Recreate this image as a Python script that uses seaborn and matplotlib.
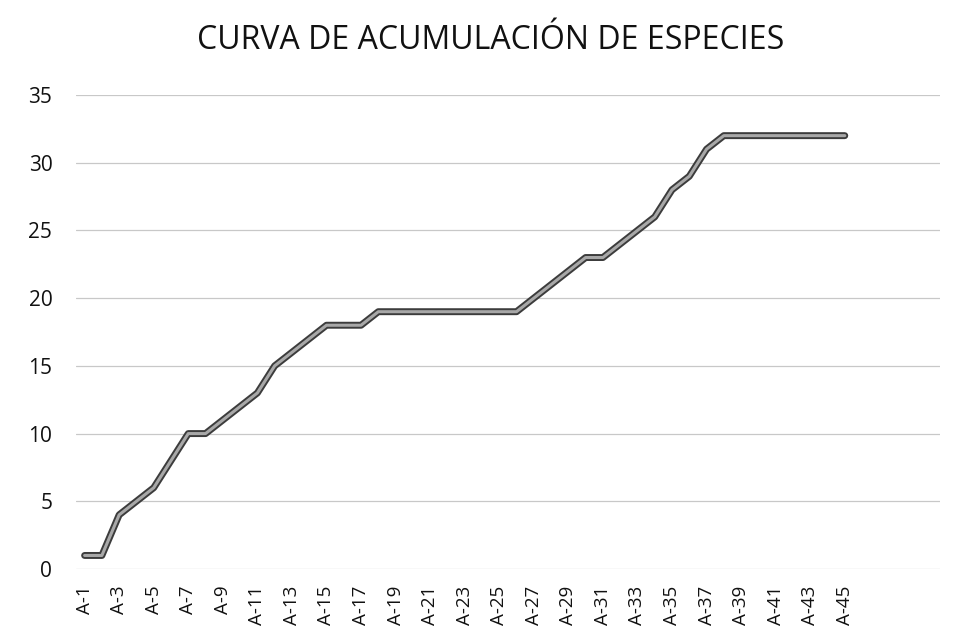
import numpy as np
import pandas as pd
import seaborn as sns
import matplotlib.pyplot as plt
import matplotlib.patheffects as pe

# datos
muestras = [f"A-{i}" for i in range(1, 46)]
especies = [1, 1, 4, 5, 6, 8, 10, 10, 11, 12,
            13, 15, 16, 17, 18, 18, 18, 19, 19, 19,
            19, 19, 19, 19, 19, 19, 20, 21, 22, 23,
            23, 24, 25, 26, 28, 29, 31, 32, 32, 32,
            32, 32, 32, 32, 32]
n_categorias = 50  # el eje llega hasta 50 categorias, las ultimas vacias
y_ticks = [0, 5, 10, 15, 20, 25, 30, 35]

df = pd.DataFrame({"muestra": muestras, "especies": especies})
df["pos"] = np.arange(len(df))

sns.set_theme(style="white")
plt.rcParams['font.family'] = ['Open Sans', 'DejaVu Sans']

fig = plt.figure(figsize=(9.58, 6.42), dpi=100)
ax = fig.add_axes([0.0793, 0.1137, 0.9017, 0.7383])

for yv in y_ticks:
    ax.axhline(yv, color='#c8c8c8', lw=0.9, zorder=0)

sns.lineplot(data=df, x="pos", y="especies", ax=ax, color='#a8a8a8', lw=2.2,
             path_effects=[pe.Stroke(linewidth=5, foreground='#3c3c3c'), pe.Normal()])

ax.set_xlim(-0.5, n_categorias - 0.5)
ax.set_ylim(0, 35)
ax.set_yticks(y_ticks)
ax.set_yticklabels([str(v) for v in y_ticks], fontsize=15, color='#111111')
ax.set_xticks(df["pos"][::2])
ax.set_xticklabels(df["muestra"][::2], rotation=90, fontsize=13.5, color='#111111')
ax.tick_params(axis='y', length=0, pad=17)
ax.tick_params(axis='x', length=0, pad=12)
ax.set_xlabel("")
ax.set_ylabel("")
sns.despine(ax=ax, left=True, bottom=True)

fig.text(0.512, 0.937, "CURVA DE ACUMULACIÓN DE ESPECIES", ha='center', va='center',
         fontsize=23, color='#111111')

fig.savefig("out.png", dpi=100, facecolor='white')
